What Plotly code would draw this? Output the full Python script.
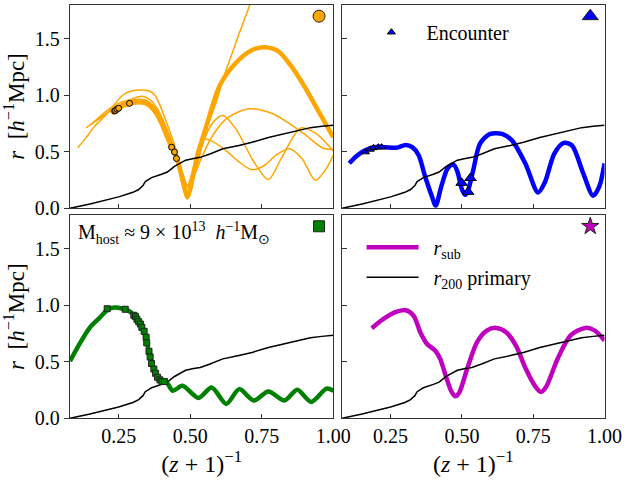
import plotly.graph_objects as go
from plotly.subplots import make_subplots

# ---------------- data ----------------
# r200 of the primary (same in every panel)
r200_x = [0.08, 0.15, 0.25, 0.30, 0.32, 0.335, 0.343, 0.365, 0.40, 0.42, 0.445, 0.465, 0.484,
          0.512, 0.535, 0.569, 0.614, 0.67, 0.716, 0.773, 0.829, 0.874, 0.92, 0.96, 1.0]
r200_y = [0.0, 0.037, 0.10, 0.14, 0.165, 0.20, 0.235, 0.27, 0.30, 0.32, 0.37, 0.40, 0.425,
          0.44, 0.45, 0.48, 0.526, 0.555, 0.583, 0.626, 0.66, 0.684, 0.713, 0.725, 0.735]

# panel 1: orange family (thin trajectories + main thick one)
thin1_x = [0.107, 0.135, 0.162, 0.207, 0.264, 0.298, 0.354, 0.377, 0.42, 0.45, 0.475, 0.492, 0.51,
           0.54, 0.58, 0.614, 0.66, 0.72, 0.773, 0.82, 0.886, 0.94, 1.0]
thin1_y = [0.534, 0.62, 0.713, 0.83, 1.0, 1.04, 1.04, 1.0, 0.74, 0.52, 0.28, 0.18, 0.28,
           0.55, 0.76, 0.82, 0.70, 0.42, 0.253, 0.45, 0.71, 0.66, 0.506]
thin2_x = [0.137, 0.184, 0.22, 0.264, 0.30, 0.33, 0.36, 0.39, 0.42, 0.45, 0.475, 0.49, 0.505, 0.53,
           0.546, 0.57, 0.62, 0.67, 0.716, 0.76, 0.80, 0.846, 0.89, 0.937, 0.97, 1.0]
thin2_y = [0.713, 0.80, 0.86, 0.93, 0.97, 0.99, 0.96, 0.86, 0.69, 0.49, 0.30, 0.20, 0.30, 0.55,
           0.61, 0.60, 0.52, 0.41, 0.34, 0.38, 0.47, 0.526, 0.44, 0.247, 0.33, 0.47]
thin3_x = [0.154, 0.207, 0.26, 0.30, 0.34, 0.37, 0.40, 0.43, 0.46, 0.48, 0.495, 0.51, 0.54, 0.58,
           0.63, 0.705, 0.784, 0.84, 0.897, 0.965, 1.0]
thin3_y = [0.74, 0.86, 0.94, 0.96, 0.96, 0.90, 0.76, 0.58, 0.37, 0.24, 0.20, 0.26, 0.45, 0.65,
           0.80, 0.88, 0.84, 0.76, 0.66, 0.53, 0.52]
thin4_x = [0.17, 0.22, 0.27, 0.31, 0.35, 0.38, 0.41, 0.44, 0.465, 0.485, 0.495, 0.51, 0.53, 0.558,
           0.59, 0.614, 0.645, 0.675, 0.705, 0.74]
thin4_y = [0.77, 0.86, 0.93, 0.955, 0.95, 0.88, 0.72, 0.50, 0.30, 0.17, 0.15, 0.26, 0.44, 0.71,
           0.93, 1.14, 1.36, 1.575, 1.78, 2.05]
orange_x = [0.224, 0.25, 0.297, 0.343, 0.377, 0.40, 0.42, 0.437, 0.456, 0.47, 0.484, 0.49, 0.50,
            0.524, 0.558, 0.603, 0.66, 0.716, 0.761, 0.807, 0.852, 0.897, 0.942, 1.0]
orange_y = [0.84, 0.885, 0.93, 0.93, 0.856, 0.75, 0.626, 0.53, 0.425, 0.28, 0.138, 0.095, 0.167,
            0.454, 0.74, 1.086, 1.287, 1.40, 1.425, 1.39, 1.26, 1.086, 0.885, 0.626]
orange_pts_x = [0.236, 0.239, 0.244, 0.25, 0.288, 0.435, 0.445, 0.452]
orange_pts_y = [0.86, 0.865, 0.877, 0.885, 0.928, 0.54, 0.497, 0.44]

# panel 2: blue
blue_x = [0.105, 0.13, 0.156, 0.19, 0.23, 0.27, 0.303, 0.326, 0.348, 0.371, 0.394, 0.408, 0.428,
          0.45, 0.47, 0.484, 0.50, 0.512, 0.522, 0.54, 0.563, 0.597, 0.643, 0.676, 0.722, 0.767,
          0.79, 0.824, 0.857, 0.886, 0.925, 0.96, 0.982, 1.0]
blue_y = [0.397, 0.46, 0.506, 0.54, 0.54, 0.535, 0.56, 0.54, 0.47, 0.28, 0.11, 0.023, 0.195,
          0.353, 0.388, 0.325, 0.167, 0.118, 0.16, 0.34, 0.57, 0.655, 0.655, 0.598, 0.397, 0.138,
          0.224, 0.483, 0.578, 0.555, 0.31, 0.109, 0.195, 0.397]
enc_small_x = [0.162, 0.179, 0.19, 0.207, 0.218]
enc_small_y = [0.497, 0.52, 0.534, 0.54, 0.54]
enc_big_x = [0.499, 0.522, 0.53]
enc_big_y = [0.224, 0.144, 0.267]

# panel 3: green
green_x = [0.08, 0.117, 0.15, 0.184, 0.213, 0.235, 0.264, 0.286, 0.309, 0.32, 0.331, 0.339, 0.348,
           0.356, 0.365, 0.373, 0.379, 0.386, 0.394, 0.401, 0.41, 0.42, 0.439, 0.473, 0.529, 0.575,
           0.626, 0.671, 0.722, 0.773, 0.829, 0.874, 0.922, 0.976, 1.0]
green_y = [0.506, 0.674, 0.805, 0.89, 0.965, 0.98, 0.97, 0.95, 0.90, 0.855, 0.805, 0.77, 0.668,
           0.593, 0.485, 0.436, 0.398, 0.363, 0.34, 0.325, 0.318, 0.31, 0.244, 0.288, 0.18, 0.273,
           0.127, 0.258, 0.157, 0.238, 0.157, 0.253, 0.145, 0.262, 0.244]
green_pts_x = [0.21, 0.273, 0.303, 0.309, 0.314, 0.32, 0.326, 0.331, 0.339, 0.346, 0.348, 0.356,
               0.36, 0.365, 0.373, 0.379, 0.386, 0.394, 0.401, 0.41]
green_pts_y = [0.97, 0.965, 0.912, 0.90, 0.877, 0.855, 0.834, 0.805, 0.77, 0.718, 0.668, 0.593,
               0.543, 0.485, 0.436, 0.398, 0.363, 0.34, 0.325, 0.325]

# panel 4: magenta
mag_x = [0.184, 0.224, 0.269, 0.303, 0.331, 0.354, 0.377, 0.406, 0.423, 0.446, 0.463, 0.477, 0.49,
         0.519, 0.553, 0.587, 0.621, 0.655, 0.689, 0.723, 0.757, 0.777, 0.796, 0.836, 0.881, 0.932,
         0.966, 1.0]
mag_y = [0.797, 0.878, 0.942, 0.956, 0.907, 0.762, 0.66, 0.60, 0.53, 0.355, 0.238, 0.195, 0.224,
         0.442, 0.674, 0.776, 0.80, 0.762, 0.645, 0.442, 0.282, 0.233, 0.282, 0.529, 0.733, 0.80,
         0.776, 0.689]

# panel badge position
badge_x = [0.95]
badge_y = [1.70]

x_ticks = [0.25, 0.5, 0.75, 1.0]
x_ticklabels = ["0.25", "0.50", "0.75", "1.00"]
y_ticks = [0.0, 0.5, 1.0, 1.5]
y_ticklabels = ["0.0", "0.5", "1.0", "1.5"]

# ---------------- figure ----------------
FONT = "Liberation Serif"
ORANGE = "#FFA500"
BLUE = "#0000FF"
GREEN = "#008000"
MAGENTA = "#BF00BF"
NB = "\u00a0\u00a0"

fig = make_subplots(rows=2, cols=2, shared_xaxes=True, shared_yaxes=True)


def r200(row, col, show=False):
    fig.add_trace(go.Scatter(x=r200_x, y=r200_y, mode="lines",
                             line=dict(color="black", width=1.5),
                             name=NB + "<i>r</i><sub>200</sub> primary", showlegend=show,
                             legend="legend2", legendgroup="b"), row=row, col=col)


def spl(x, y, color, width, row, col, name="", show=False, legend="legend", group="a"):
    fig.add_trace(go.Scatter(x=x, y=y, mode="lines",
                             line=dict(color=color, width=width, shape="spline", smoothing=0.8),
                             name=name, showlegend=show, legend=legend, legendgroup=group),
                  row=row, col=col)


# panel 1
for tx, ty in [(thin1_x, thin1_y), (thin2_x, thin2_y), (thin3_x, thin3_y), (thin4_x, thin4_y)]:
    spl(tx, ty, ORANGE, 1.5, 1, 1)
spl(orange_x, orange_y, ORANGE, 4.5, 1, 1)
r200(1, 1)
fig.add_trace(go.Scatter(x=orange_pts_x, y=orange_pts_y, mode="markers", showlegend=False,
                         marker=dict(symbol="circle", size=6, color=ORANGE,
                                     line=dict(color="black", width=1))), row=1, col=1)
fig.add_trace(go.Scatter(x=badge_x, y=badge_y, mode="markers", showlegend=False,
                         marker=dict(symbol="circle", size=12, color=ORANGE,
                                     line=dict(color="#222", width=1))), row=1, col=1)

# panel 2
spl(blue_x, blue_y, BLUE, 4.5, 1, 2)
r200(1, 2)
fig.add_trace(go.Scatter(x=enc_small_x, y=enc_small_y, mode="markers", name=NB + "Encounter",
                         showlegend=True, legend="legend",
                         marker=dict(symbol="triangle-up", size=7, color=BLUE,
                                     line=dict(color="black", width=1))), row=1, col=2)
fig.add_trace(go.Scatter(x=enc_big_x, y=enc_big_y, mode="markers", showlegend=False,
                         marker=dict(symbol="triangle-up", size=10, color=BLUE,
                                     line=dict(color="black", width=1))), row=1, col=2)
fig.add_trace(go.Scatter(x=badge_x, y=badge_y, mode="markers", showlegend=False,
                         marker=dict(symbol="triangle-up", size=14, color=BLUE,
                                     line=dict(color="#222", width=1))), row=1, col=2)

# panel 3
spl(green_x, green_y, GREEN, 4.5, 2, 1)
r200(2, 1)
fig.add_trace(go.Scatter(x=green_pts_x, y=green_pts_y, mode="markers", showlegend=False,
                         marker=dict(symbol="square", size=6, color=GREEN,
                                     line=dict(color="#222", width=1))), row=2, col=1)
fig.add_trace(go.Scatter(x=badge_x, y=badge_y, mode="markers", showlegend=False,
                         marker=dict(symbol="square", size=11, color=GREEN,
                                     line=dict(color="#222", width=1))), row=2, col=1)

# panel 4
spl(mag_x, mag_y, MAGENTA, 4.5, 2, 2, name=NB + "<i>r</i><sub>sub</sub>", show=True,
    legend="legend2", group="a")
r200(2, 2, show=True)
fig.add_trace(go.Scatter(x=badge_x, y=badge_y, mode="markers", showlegend=False,
                         marker=dict(symbol="star", size=13, color=MAGENTA,
                                     line=dict(color="#222", width=1))), row=2, col=2)

# ---------------- layout ----------------
W, H = 641, 483
xdom_l = [72 / W, 343 / W]
xdom_r = [352 / W, 622 / W]
ydom_t = [1 - 213 / H, 1 - 5 / H]
ydom_b = [1 - 428 / H, 1 - 220 / H]

axis_common = dict(showgrid=False, zeroline=False, showline=True, mirror=True,
                   linecolor="#333", linewidth=1.3, tickcolor="#333",
                   tickfont=dict(family=FONT, size=20, color="black"))

xt = dict(axis_common, range=[0.08, 1.0], tickvals=x_ticks, ticktext=x_ticklabels,
          ticks="inside", ticklen=4)
yt = dict(axis_common, range=[0, 1.8], tickvals=y_ticks, ticktext=y_ticklabels, ticklen=5)

xtitle = dict(text="(<i>z</i> + 1)<sup>−1</sup>", font=dict(family=FONT, size=24, color="black"),
              standoff=8)
ytitle = dict(text="<i>r</i>  [<i>h</i><sup>−1</sup>Mpc]", font=dict(family=FONT, size=23, color="black"),
              standoff=6)

fig.update_layout(
    width=W, height=H, margin=dict(l=0, r=0, t=0, b=0),
    paper_bgcolor="white", plot_bgcolor="white",
    font=dict(family=FONT, color="black"),
    xaxis=dict(xt, domain=xdom_l, showticklabels=False),
    xaxis2=dict(xt, domain=xdom_r, showticklabels=False),
    xaxis3=dict(xt, domain=xdom_l, showticklabels=True, title=xtitle),
    xaxis4=dict(xt, domain=xdom_r, showticklabels=True, title=xtitle),
    yaxis=dict(yt, domain=ydom_t, ticks="outside", showticklabels=True, title=ytitle),
    yaxis2=dict(yt, domain=ydom_t, ticks="inside", showticklabels=False),
    yaxis3=dict(yt, domain=ydom_b, ticks="outside", showticklabels=True, title=ytitle),
    yaxis4=dict(yt, domain=ydom_b, ticks="inside", showticklabels=False),
    legend=dict(x=377 / W, y=1 - 13 / H, xanchor="left", yanchor="top",
                bgcolor="rgba(0,0,0,0)", borderwidth=0,
                font=dict(family=FONT, size=20, color="black"), itemwidth=40),
    legend2=dict(x=372 / W, y=1 - 233 / H, xanchor="left", yanchor="top",
                 bgcolor="rgba(0,0,0,0)", borderwidth=0, tracegroupgap=1,
                 font=dict(family=FONT, size=20, color="black"), itemwidth=52),
    annotations=[dict(text="M<sub>host</sub> ≈ 9 × 10<sup>13</sup>  <i>h</i><sup>−1</sup>M<sub>⊙</sub>",
                      xref="paper", yref="paper", x=78 / W, y=1 - 238 / H,
                      xanchor="left", yanchor="middle", showarrow=False,
                      font=dict(family=FONT, size=20, color="black"))],
)

fig.write_html("out.html")
